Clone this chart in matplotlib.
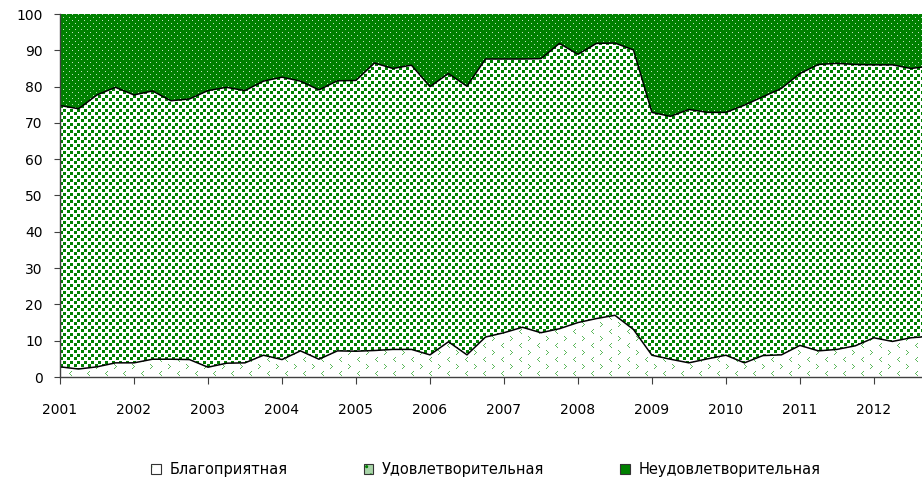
import matplotlib
matplotlib.use("Agg")
import matplotlib.pyplot as plt
from matplotlib.patches import Rectangle
from matplotlib.legend_handler import HandlerTuple
from matplotlib.colors import to_rgb
import numpy as np

# quarterly shares, 2001Q1 .. 2012Q4 (%)
year_labels = [str(y) for y in range(2001, 2013)]
series_names = ["Благоприятная", "Удовлетворительная", "Неудовлетворительная"]

favourable = [2.8, 2.2, 2.8, 3.9, 3.9, 4.9, 4.9, 4.8, 2.7, 3.8, 3.9, 6.0,
              4.8, 7.2, 4.9, 7.2, 7.1, 7.3, 7.6, 7.6, 6.1, 9.7, 6.1, 11.0,
              12.2, 13.7, 12.2, 13.3, 15.0, 16.1, 17.0, 13.1, 6.0, 4.9, 3.9, 5.0,
              6.0, 3.9, 5.9, 6.1, 8.7, 7.2, 7.6, 8.6, 10.8, 9.8, 10.8, 11.2]
satisfactory = [72.0, 71.7, 74.9, 75.9, 73.8, 73.9, 71.2, 71.8, 76.2, 76.0, 75.0, 75.5,
                77.8, 74.3, 74.2, 74.4, 74.6, 79.2, 77.4, 78.3, 73.9, 73.9, 74.0, 76.6,
                75.4, 73.9, 75.5, 78.6, 73.9, 75.8, 75.0, 77.0, 66.9, 66.9, 69.8, 67.9,
                66.9, 71.0, 71.3, 73.4, 74.9, 78.9, 78.8, 77.5, 75.2, 76.2, 74.2, 74.4]
unsatisfactory = [25.2, 26.1, 22.3, 20.2, 22.3, 21.2, 23.9, 23.4, 21.1, 20.2, 21.1, 18.5,
                  17.4, 18.5, 20.9, 18.4, 18.3, 13.5, 15.0, 14.1, 20.0, 16.4, 19.9, 12.4,
                  12.4, 12.4, 12.3, 8.1, 11.1, 8.1, 8.0, 9.9, 27.1, 28.2, 26.3, 27.1,
                  27.1, 25.1, 22.8, 20.5, 16.4, 13.9, 13.6, 13.9, 14.0, 14.0, 15.0, 14.4]

x = np.arange(len(favourable))
low = np.array(favourable)
mid = low + np.array(satisfactory)
top = mid + np.array(unsatisfactory)

GREEN = "#008000"
XMAX = 46.6
W, H = 922, 486
AX_L, AX_B, AX_W, AX_H = 60, 109, 862, 363   # axes box in pixels


def make_tile(h, w, bg, marks):
    t = np.ones((h, w, 3)) * np.array(to_rgb(bg))
    for col, pts in marks:
        for r, c in pts:
            t[r % h, c % w] = to_rgb(col)
    return t


def square(r0, c0, n):
    return [(r0 + i, c0 + j) for i in range(n) for j in range(n)]


# Excel-like fill patterns, drawn pixel for pixel
chev_r = [(0, 0), (1, 1), (2, 2), (3, 1), (4, 0)]
chev_l = [(0, 2), (1, 1), (2, 0), (3, 1), (4, 2)]
tile_low = make_tile(14, 18, "white",
                     [("#5cb85c", chev_r), ("#5cb85c", [(r + 7, c + 9) for r, c in chev_l])])
tile_mid = make_tile(7, 7, "white",
                     [(GREEN, square(0, 0, 3) + square(4, 3, 3))])
tile_top = make_tile(6, 6, GREEN,
                     [("#bfe0bf", [(0, 0), (3, 3)])])

fig = plt.figure(figsize=(W / 100, H / 100), dpi=100)
ax = fig.add_axes([AX_L / W, AX_B / H, AX_W / W, AX_H / H])
ax.patch.set_visible(False)

bounds = [np.zeros(len(x)), low, mid, top]
for i, t in enumerate([tile_low, tile_mid, tile_top]):
    poly = ax.fill_between(x, bounds[i], bounds[i + 1], facecolor="none", linewidth=0)
    img = np.tile(t, (AX_H // t.shape[0] + 1, AX_W // t.shape[1] + 1, 1))[:AX_H, :AX_W]
    im = fig.figimage(img, xo=AX_L, yo=AX_B, origin="upper", zorder=-1)
    im.set_clip_path(poly.get_paths()[0], transform=ax.transData)

ax.plot(x, low, color="black", lw=1.1, zorder=3)
ax.plot(x, mid, color="black", lw=1.1, zorder=3)

ax.set_xlim(0, XMAX)
ax.set_ylim(0, 100)
ax.set_yticks(range(0, 101, 10))
ax.set_xticks(x[::4])
ax.set_xticklabels(year_labels)
ax.tick_params(axis="x", length=5, pad=14, labelsize=10, color="#404040")
ax.tick_params(axis="y", length=4.5, pad=8, labelsize=10, color="#404040")
for s in ["top", "right"]:
    ax.spines[s].set_visible(False)
for s in ["left", "bottom"]:
    ax.spines[s].set_color("#404040")
    ax.spines[s].set_linewidth(1.0)
    ax.spines[s].set_zorder(4)

# legend proxies: small patterned square with a thin dark border
legend_styles = [("white", "#5cb85c", "."), ("#a8d4a8", GREEN, ".."), (GREEN, "#cfe8cf", ".")]
handles = []
for fc, hc, hatch in legend_styles:
    r = Rectangle((0, 0), 1, 1, facecolor=fc, edgecolor=hc, hatch=hatch, linewidth=0)
    b = Rectangle((0, 0), 1, 1, fill=False, edgecolor="#333333", linewidth=0.8)
    handles.append((r, b))

fig.legend(handles, series_names, loc="center", bbox_to_anchor=(0.527, 0.033), ncol=3,
           frameon=False, fontsize=10.5, handlelength=0.65, handleheight=0.65,
           handletextpad=0.6, columnspacing=5.2,
           handler_map={tuple: HandlerTuple(ndivide=1, pad=0)})

fig.savefig("out.png", dpi=100)
